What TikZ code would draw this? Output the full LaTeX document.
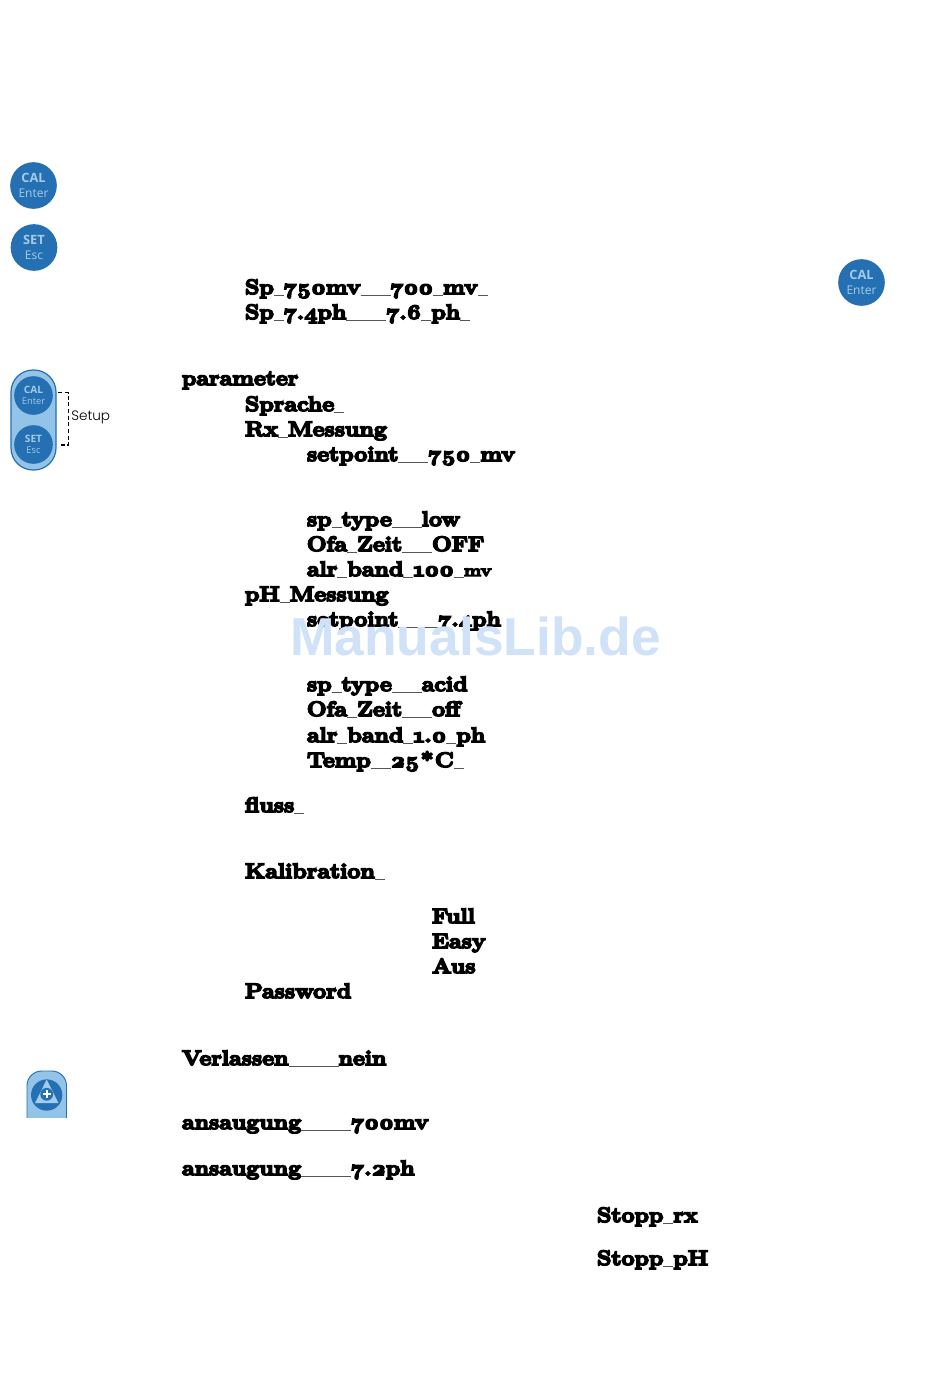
\documentclass[tikz,border=0pt]{standalone}
\usepackage{fontspec}
\font\heavy="Latin Modern Roman/B:embolden=8;extend=1.11;+onum" at 15.6pt
\font\heavysm="Latin Modern Roman/B:embolden=8;extend=1.11" at 12.4pt
\newfontfamily\btn{Open Sans}
\newfontfamily\gothic{Poppins Light}
\newfontfamily\wm{Liberation Sans}
\definecolor{btnblue}{HTML}{2470B2}
\definecolor{btnlight}{HTML}{A5CBE8}
\definecolor{capsule}{HTML}{93C4E8}
\definecolor{wmblue}{HTML}{CFE2F8}
\definecolor{usgray}{HTML}{555555}
\newcommand{\U}{{\color{usgray}\rule[-1.3pt]{7.5pt}{0.7pt}}}
\tikzset{
 x=0.75pt,y=-0.75pt,
 lbl/.style={anchor=base west,inner sep=0pt,outer sep=0pt,font=\heavy,text=black},
 btnbig/.style={circle,fill=btnblue,minimum size=35pt,inner sep=0pt},
 btnsmall/.style={circle,fill=btnblue,minimum size=29pt,inner sep=0pt},
 captop/.style={anchor=center,inner sep=0pt,text=btnlight},
}
\newcommand{\bigbtn}[4]{%
 \node[btnbig] (#1) at #2 {};
 \node[captop,font=\btn\bfseries\fontsize{9.6}{10}\selectfont] (#1t) at ([yshift=5.4pt]#1.center) {#3};
 \node[captop,font=\btn\fontsize{9}{10}\selectfont] (#1b) at ([yshift=-5.6pt]#1.center) {#4};}
\newcommand{\smallbtn}[4]{%
 \node[btnsmall] (#1) at #2 {};
 \node[captop,font=\btn\bfseries\fontsize{7.6}{8}\selectfont] (#1t) at ([yshift=4.4pt]#1.center) {#3};
 \node[captop,font=\btn\fontsize{7}{8}\selectfont] (#1b) at ([yshift=-4.6pt]#1.center) {#4};}
\begin{document}
\begin{tikzpicture}
\useasboundingbox (0,0) rectangle (950,1379);
\fill[white] (0,0) rectangle (950,1379);
\bigbtn{calA}{(33.5,185.5)}{CAL}{Enter}
\bigbtn{setA}{(34,247.5)}{SET}{Esc}
\bigbtn{calB}{(861.5,282.5)}{CAL}{Enter}
% capsule
\draw[btnblue,fill=capsule,line width=0.9pt,rounded corners=16.5pt] (11,370) rectangle (56,470);
\smallbtn{calC}{(33.5,395.5)}{CAL}{Enter}
\smallbtn{setC}{(33.5,444.5)}{SET}{Esc}
\coordinate (brA) at (58,392.7);
\coordinate (brB) at (58,445);
\draw[black,line width=0.8pt,dash pattern=on 3pt off 2pt] (brA) -- ++(10.5,0) |- (brB);
\node[anchor=base west,inner sep=0pt,font=\gothic\fontsize{10.2}{12}\selectfont] (setup) at (71,420.5) {Setup};
% plus button
\draw[btnblue,fill=capsule,line width=0.7pt,rounded corners=11pt] (27,1135) -- (27,1071) -- (66.5,1071) -- (66.5,1135);
\fill[white] (20,1118) rectangle (75,1140);
\node[circle,fill=btnblue,minimum size=23.5pt,inner sep=0pt] (plusc) at (46.7,1095) {};
\fill[btnlight,rounded corners=0.4pt] (46.7,1079.5) -- (58.5,1103.2) -- (35,1103.2) -- cycle;
\node[circle,fill=btnblue,minimum size=9.6pt,inner sep=0pt] (plusd) at (46.7,1094.3) {};
\draw[white,line width=1.3pt] (42.7,1094.3) -- (50.7,1094.3) (46.7,1090.3) -- (46.7,1098.3);
% text
\node[lbl] (t01) at (245,294) {Sp\U750mv\U\U\U700\U mv\U};
\node[lbl] (t02) at (245,319) {Sp\U7.4ph\U\U\U\U7.6\U ph\U};
\node[lbl] (t03) at (182,385) {parameter};
\node[lbl] (t04) at (245,411) {Sprache\U};
\node[lbl] (t05) at (245,436) {Rx\U Messung};
\node[lbl] (t06) at (307,461) {setpoint\U\U\U750\U mv};
\node[lbl] (t07) at (307,526) {sp\U type\U\U\U low};
\node[lbl] (t08) at (307,551) {Ofa\U Zeit\U\U\U OFF};
\node[lbl] (t09) at (307,576) {alr\U band\U100\U{\heavysm mv}};
\node[lbl] (t10) at (245,601) {pH\U Messung};
\node[lbl] (t11) at (307,626) {setpoint\U\U\U\U7.4ph};
\node[lbl] (t12) at (307,691) {sp\U type\U\U\U acid};
\node[lbl] (t13) at (307,716) {Ofa\U Zeit\U\U\U off};
\node[lbl] (t14) at (307,742) {alr\U band\U1.0\U ph};
\node[lbl] (t15) at (307,767) {Temp\U\U25\kern1pt*\kern1pt C\U};
\node[lbl] (t16) at (245,812) {fluss\U};
\node[lbl] (t17) at (245,878) {Kalibration\U};
\node[lbl] (t18) at (432,923) {Full};
\node[lbl] (t19) at (432,948) {Easy};
\node[lbl] (t20) at (432,973) {Aus};
\node[lbl] (t21) at (245,998) {Password};
\node[lbl] (t22) at (182,1065) {Verlassen\U\U\U\U\U nein};
\node[lbl] (t23) at (182,1129) {ansaugung\U\U\U\U\U700mv};
\node[lbl] (t24) at (182,1175) {ansaugung\U\U\U\U\U7.2ph};
\node[lbl] (t25) at (597,1222) {Stopp\U rx};
\node[lbl] (t26) at (597,1265) {Stopp\U pH};
% watermark
\node[anchor=base west,inner sep=0pt,font=\wm\bfseries\fontsize{40}{44}\selectfont,text=wmblue] (wm) at (290,655) {ManualsLib.de};
\end{tikzpicture}
\end{document}
